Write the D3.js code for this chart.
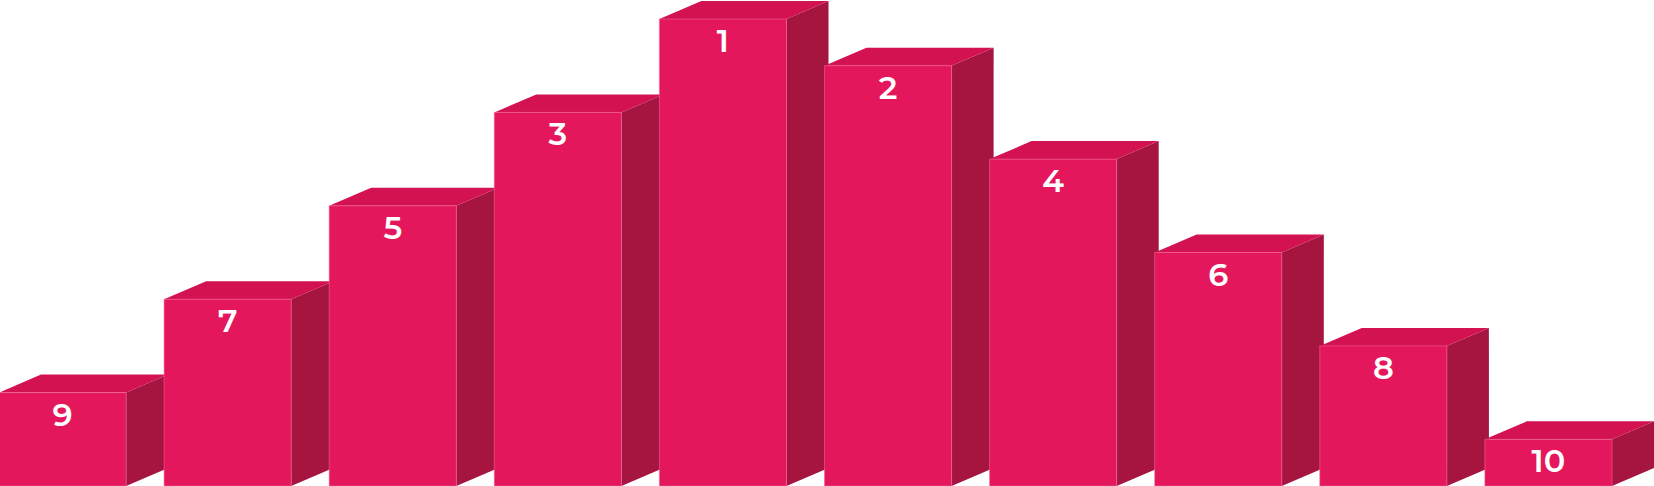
<!DOCTYPE html>
<html>
<head>
<meta charset="utf-8">
<script src="https://cdn.jsdelivr.net/npm/d3@7"></script>
<style>
  html, body { margin: 0; padding: 0; background: #ffffff; overflow: hidden; }
  svg { display: block; }
</style>
</head>
<body>
<svg id="chart" width="1654" height="486"></svg>
<script>
// Data (left to right)
const categories = ["9", "7", "5", "3", "1", "2", "4", "6", "8", "10"];
const values     = [2, 4, 6, 8, 10, 9, 7, 5, 3, 1];

const W = 1654, H = 486;
const depthX = 42, depthY = 18;

const svg = d3.select("#chart");

const x = d3.scaleBand()
  .domain(categories)
  .range([-1, W - depthX])
  .paddingInner(0.23)
  .paddingOuter(0);

const y = d3.scaleLinear()
  .domain([0, 10])
  .range([H, 19]);

const colFront = "#e5175c";
const colTop = "#d31251";
const colSide = "#a51540";
const colEdge = "#f0669a";

const data = categories.map((c, i) => ({ c, v: values[i] }));

const g = svg.append("g");
const bars = g.selectAll("g.bar").data(data).enter().append("g").attr("class", "bar");

bars.each(function(d) {
  const sel = d3.select(this);
  const x0 = x(d.c), x1 = x(d.c) + x.bandwidth();
  const yt = y(d.v), yb = y(0);
  // side face
  sel.append("path")
    .attr("d", `M${x1},${yt} L${x1 + depthX},${yt - depthY} L${x1 + depthX},${yb - depthY} L${x1},${yb} Z`)
    .attr("fill", colSide);
  // top face
  sel.append("path")
    .attr("d", `M${x0},${yt} L${x0 + depthX},${yt - depthY} L${x1 + depthX},${yt - depthY} L${x1},${yt} Z`)
    .attr("fill", colTop);
  // front face
  sel.append("rect")
    .attr("x", x0).attr("y", yt)
    .attr("width", x.bandwidth()).attr("height", yb - yt)
    .attr("fill", colFront)
    .attr("stroke", colEdge)
    .attr("stroke-width", 1)
    .attr("stroke-opacity", 0.55);
  // label
  sel.append("text")
    .attr("x", x0 + x.bandwidth() / 2)
    .attr("y", yt + 33)
    .attr("text-anchor", "middle")
    .attr("fill", "#ffffff")
    .attr("font-family", "Montserrat, Inter, 'Open Sans', sans-serif")
    .attr("font-weight", 600)
    .attr("font-size", 32)
    .text(d.c);
});
</script>
</body>
</html>
